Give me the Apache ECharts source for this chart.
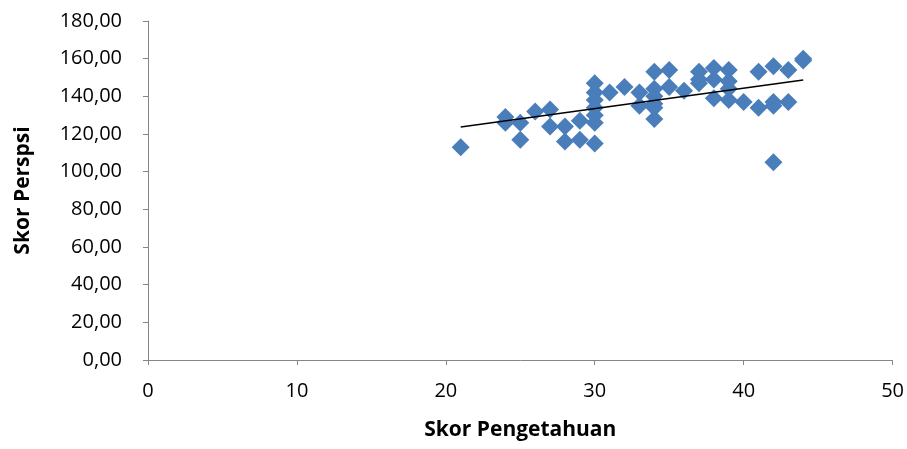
<!DOCTYPE html>
<html>
<head>
<meta charset="utf-8">
<script src="https://cdn.jsdelivr.net/npm/echarts@6/dist/echarts.min.js"></script>
<style>
  html, body { margin: 0; padding: 0; background: #fff; }
  #chart { width: 907px; height: 449px; }
</style>
</head>
<body>
<div id="chart"></div>
<script>
// data
var skorPengetahuan = [
    21,
    24, 24,
    25, 25,
    26,
    27, 27,
    28, 28,
    29, 29,
    30, 30, 30, 30, 30, 30, 30,
    31,
    32,
    33, 33,
    34, 34, 34, 34, 34, 34,
    35, 35,
    36,
    37, 37, 37,
    38, 38, 38,
    39, 39, 39, 39,
    40,
    41, 41,
    42, 42, 42, 42,
    43, 43,
    44, 44
];
var skorPersepsi = [
    113,
    129, 126,
    126, 117,
    132,
    133, 124,
    124, 116,
    127, 117,
    147, 142, 138, 134, 130, 126, 115,
    142,
    145,
    142, 135,
    153, 144, 140, 136, 134, 128,
    154, 145,
    143,
    153, 149, 147,
    155, 149, 139,
    154, 148, 144, 138,
    137,
    153, 134,
    156, 137, 135, 105,
    154, 137,
    159, 160
];
// garis tren (ujung kiri dan kanan)
var trendX = [21, 44];
var trendY = [123.7, 148.7];

var fontUtama = '"Open Sans", Lato, sans-serif';

var titik = [];
for (var i = 0; i < skorPengetahuan.length; i++) {
    titik.push([skorPengetahuan[i], skorPersepsi[i]]);
}
var garis = [];
for (var j = 0; j < trendX.length; j++) {
    garis.push([trendX[j], trendY[j]]);
}

var chart = echarts.init(document.getElementById('chart'), null, { renderer: 'canvas' });
var option = {
    animation: false,
    backgroundColor: '#ffffff',
    grid: { left: 148, right: 12, top: 21, bottom: 89 },
    xAxis: {
        type: 'value',
        min: 0,
        max: 50,
        interval: 10,
        name: 'Skor Pengetahuan',
        nameLocation: 'middle',
        nameGap: 60,
        nameTextStyle: { fontFamily: fontUtama, fontWeight: 'bold', fontSize: 21, color: '#000' },
        axisLine: { show: true, lineStyle: { color: '#868686', width: 1 } },
        axisTick: { show: true, length: 5, lineStyle: { color: '#868686' } },
        axisLabel: { fontFamily: fontUtama, fontSize: 20, color: '#000', margin: 21 },
        splitLine: { show: false }
    },
    yAxis: {
        type: 'value',
        min: 0,
        max: 180,
        interval: 20,
        name: 'Skor Perspsi',
        nameLocation: 'middle',
        nameGap: 114,
        nameTextStyle: { fontFamily: fontUtama, fontWeight: 'bold', fontSize: 21, color: '#000' },
        axisLine: { show: true, lineStyle: { color: '#868686', width: 1 } },
        axisTick: { show: true, length: 5, lineStyle: { color: '#868686' } },
        axisLabel: {
            fontFamily: fontUtama,
            fontSize: 20,
            color: '#000',
            margin: 26,
            formatter: function (v) {
                return v.toFixed(2).replace('.', ',');
            }
        },
        splitLine: { show: false }
    },
    series: [
        {
            type: 'scatter',
            symbol: 'diamond',
            symbolSize: 18,
            itemStyle: { color: '#4a7ebb', opacity: 1 },
            data: titik,
            z: 2
        },
        {
            type: 'line',
            data: garis,
            showSymbol: false,
            symbol: 'none',
            lineStyle: { color: '#000', width: 1.5 },
            z: 3
        }
    ]
};
chart.setOption(option);
</script>
</body>
</html>
